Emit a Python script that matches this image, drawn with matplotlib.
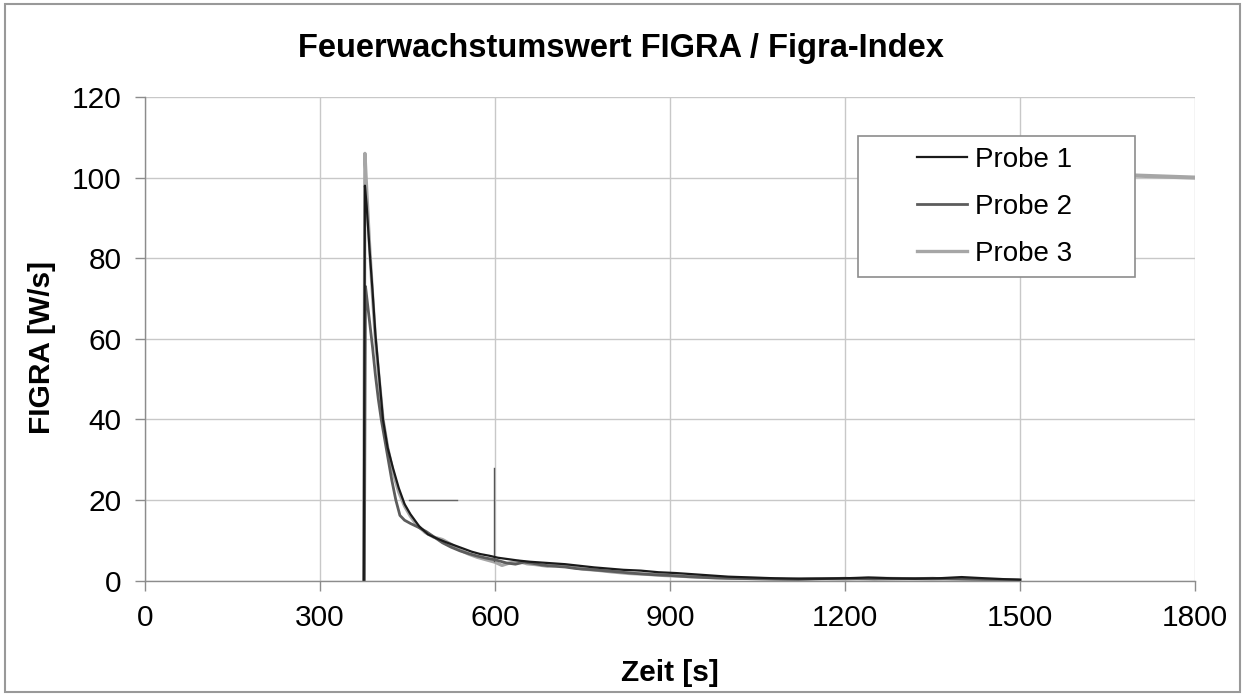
import matplotlib.pyplot as plt
from matplotlib.patches import Rectangle

plt.rcParams['font.family'] = ['Liberation Sans', 'DejaVu Sans']

# Probe 1 (black)
t1 = [375, 377, 380, 385, 390, 395, 400, 408, 416, 425,
      435, 445, 455, 470, 485, 500, 515, 530, 545, 560,
      575, 590, 605, 620, 640, 660, 680, 700, 720, 745,
      770, 795, 820, 850, 880, 910, 940, 970, 1000, 1040,
      1080, 1120, 1160, 1200, 1240, 1280, 1320, 1360, 1400, 1440,
      1470, 1500]
v1 = [0, 98, 93, 82, 72, 61, 53, 40, 33, 28,
      23, 19, 16.5, 13.5, 11.5, 10.5, 9.6, 8.8, 8.0, 7.2,
      6.6, 6.2, 5.7, 5.4, 5.0, 4.7, 4.5, 4.3, 4.1, 3.7,
      3.3, 3.0, 2.7, 2.5, 2.1, 1.9, 1.6, 1.3, 1.0, 0.8,
      0.6, 0.5, 0.5, 0.6, 0.8, 0.6, 0.5, 0.6, 0.9, 0.6,
      0.4, 0.2]

# Probe 2 (dark grey)
t2 = [376, 378, 382, 386, 390, 395, 400, 405, 411, 417,
      423, 430, 437, 445, 455, 468, 482, 496, 510, 525,
      540, 555, 570, 585, 600, 620, 635, 650, 665, 680,
      700, 720, 740, 760, 785, 810, 840, 870, 900, 930,
      960, 1000, 1040, 1080, 1120, 1160, 1200, 1250, 1300, 1350,
      1400, 1450, 1500]
v2 = [0, 73, 68, 63, 58, 51, 45, 40, 35, 30,
      25, 20, 16.2, 15.0, 14.2, 13.3, 12.2, 10.8, 9.4, 8.3,
      7.4, 6.7, 6.1, 5.6, 5.2, 4.4, 4.1, 4.6, 4.3, 3.9,
      3.6, 3.4, 3.0, 2.8, 2.5, 2.2, 1.8, 1.5, 1.3, 1.0,
      0.8, 0.6, 0.5, 0.4, 0.3, 0.5, 0.6, 0.4, 0.5, 0.6,
      0.4, 0.3, 0.2]

# Probe 3 (light grey)
t3 = [375, 377, 380, 385, 390, 395, 400, 408, 416, 425,
      435, 445, 455, 465, 480, 495, 510, 525, 540, 555,
      570, 585, 600, 612, 625, 640, 655, 670, 690, 710,
      730, 750, 775, 800, 830, 860, 890, 920, 950, 980,
      1020, 1060, 1100, 1150, 1200, 1250, 1300, 1350, 1400, 1450,
      1500]
v3 = [0, 106, 97, 83, 71, 60, 52, 40, 33, 27,
      22, 18.5, 16, 14, 12, 10.8, 10.2, 9.0, 7.6, 6.6,
      5.8, 5.2, 4.6, 3.8, 4.4, 4.8, 4.2, 4.0, 3.6, 3.9,
      3.4, 2.9, 2.6, 2.2, 1.8, 1.6, 1.3, 1.1, 0.9, 0.7,
      0.6, 0.5, 0.4, 0.5, 0.4, 0.6, 0.5, 0.4, 0.5, 0.3,
      0.2]

# stray strokes visible in the original scan
stray_h_t = [453, 535]
stray_h_v = [20, 20]
stray_v_t = [598, 598]
stray_v_v = [28, 5]
stray_top_t = [1700, 1800]
stray_top_v = [100.5, 100]

x_ticks = [0, 300, 600, 900, 1200, 1500, 1800]
y_ticks = [0, 20, 40, 60, 80, 100, 120]

fig = plt.figure(figsize=(12.45, 6.95), dpi=100)
ax = fig.add_axes([145 / 1245, 1 - 580.7 / 695, 1050 / 1245, 483.7 / 695])

# outer frame of the picture
fig.patches.append(Rectangle((5 / 1245, 3 / 695), 1235 / 1245, 688 / 695,
                             transform=fig.transFigure, fill=False,
                             edgecolor='#999999', linewidth=1.5))

ax.plot(t3, v3, color='#a6a6a6', lw=2.4, label='Probe 3', zorder=2)
ax.plot(t2, v2, color='#5c5c5c', lw=2.0, label='Probe 2', zorder=2.1)
ax.plot(t1, v1, color='#1a1a1a', lw=1.6, label='Probe 1', zorder=2.2)
ax.plot(stray_h_t, stray_h_v, color='#666666', lw=1.0, zorder=2)
ax.plot(stray_v_t, stray_v_v, color='#555555', lw=1.0, zorder=2)
ax.plot(stray_top_t, stray_top_v, color='#a6a6a6', lw=3.0, zorder=2)

ax.set_xlim(0, 1800)
ax.set_ylim(0, 120)
ax.set_xticks(x_ticks)
ax.set_yticks(y_ticks)
ax.grid(True, color='#c8c8c8', lw=1.0)
ax.set_axisbelow(True)
for s in ['top', 'right']:
    ax.spines[s].set_visible(False)
for s in ['left', 'bottom']:
    ax.spines[s].set_color('#8c8c8c')
    ax.spines[s].set_linewidth(1.0)
ax.tick_params(direction='out', length=7, width=1.0, color='#8c8c8c',
               labelsize=21.5, pad=10)

ax.set_title('Feuerwachstumswert FIGRA / Figra-Index', fontsize=23.5,
             fontweight='bold', pad=29, x=0.453)
ax.set_xlabel('Zeit [s]', fontsize=21.5, fontweight='bold', labelpad=19)
ax.set_ylabel('FIGRA [W/s]', fontsize=21.5, fontweight='bold')
ax.yaxis.set_label_coords(-0.085, 0.483)

# legend box
ax.add_patch(Rectangle((0.679, 0.628), 0.264, 0.291, transform=ax.transAxes,
                       facecolor='white', edgecolor='#8c8c8c', lw=1.2, zorder=4))
h, l = ax.get_legend_handles_labels()
leg = ax.legend(h[::-1], l[::-1], loc='center', bbox_to_anchor=(0.809, 0.773),
                frameon=False, fontsize=20, handlelength=1.8,
                handletextpad=0.3, labelspacing=0.75)
leg.set_zorder(5)

fig.savefig('out.png', dpi=100)
